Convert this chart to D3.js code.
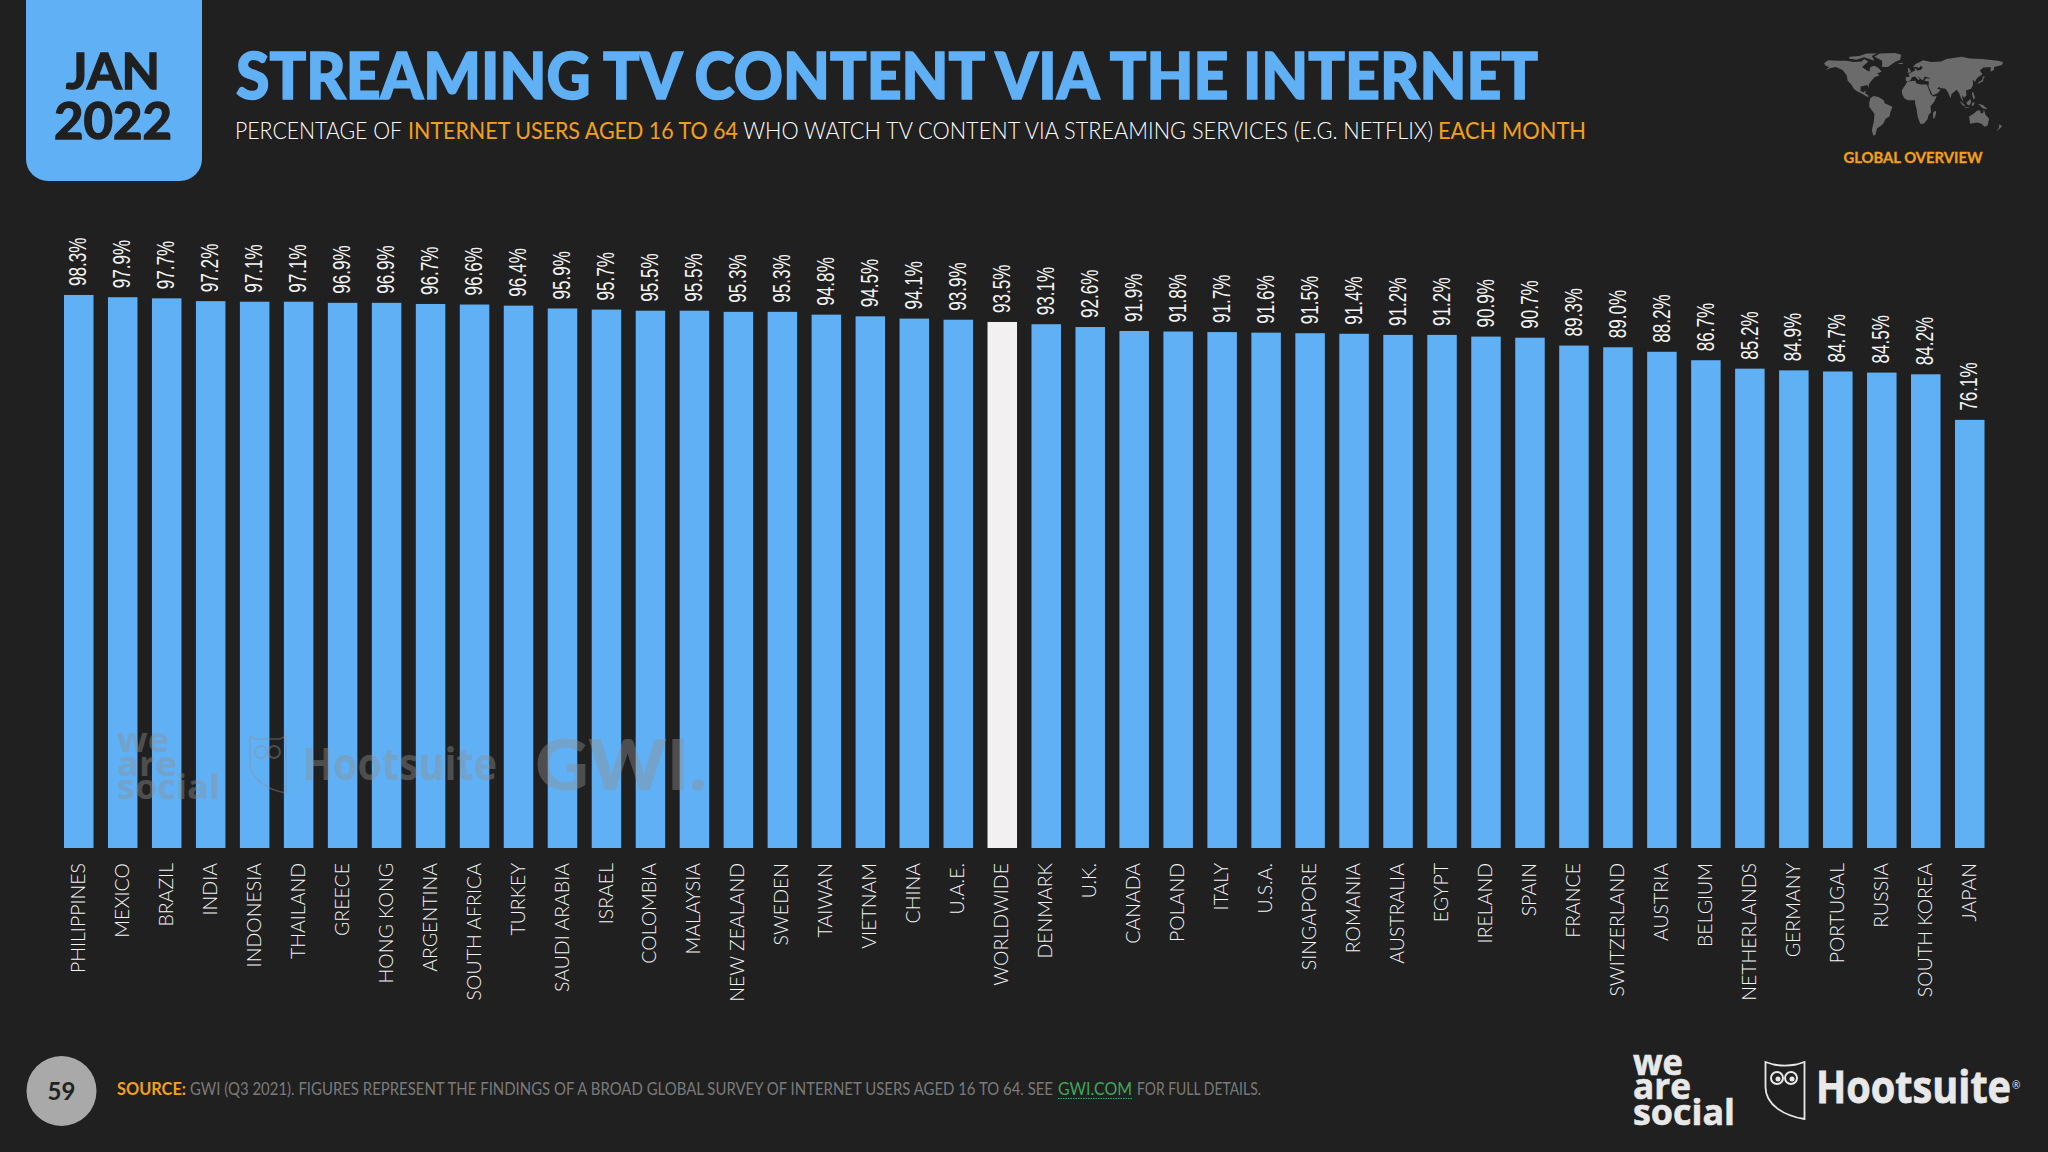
<!DOCTYPE html>
<html>
<head>
<meta charset="utf-8">
<script src="https://cdn.jsdelivr.net/npm/d3@7"></script>
<style>
html, body { margin: 0; padding: 0; background: #202020; }
svg { display: block; }
</style>
</head>
<body>
<svg id="chart" width="2048" height="1152"></svg>
<script>
var countries = ["PHILIPPINES", "MEXICO", "BRAZIL", "INDIA", "INDONESIA", "THAILAND", "GREECE", "HONG KONG",
    "ARGENTINA", "SOUTH AFRICA", "TURKEY", "SAUDI ARABIA", "ISRAEL", "COLOMBIA", "MALAYSIA", "NEW ZEALAND",
    "SWEDEN", "TAIWAN", "VIETNAM", "CHINA", "U.A.E.", "WORLDWIDE", "DENMARK", "U.K.", "CANADA", "POLAND",
    "ITALY", "U.S.A.", "SINGAPORE", "ROMANIA", "AUSTRALIA", "EGYPT", "IRELAND", "SPAIN", "FRANCE",
    "SWITZERLAND", "AUSTRIA", "BELGIUM", "NETHERLANDS", "GERMANY", "PORTUGAL", "RUSSIA", "SOUTH KOREA", "JAPAN"];
var shares = [98.3, 97.9, 97.7, 97.2, 97.1, 97.1, 96.9, 96.9, 96.7, 96.6, 96.4, 95.9, 95.7, 95.5, 95.5, 95.3,
    95.3, 94.8, 94.5, 94.1, 93.9, 93.5, 93.1, 92.6, 91.9, 91.8, 91.7, 91.6, 91.5, 91.4, 91.2, 91.2, 90.9,
    90.7, 89.3, 89.0, 88.2, 86.7, 85.2, 84.9, 84.7, 84.5, 84.2, 76.1];
var highlighted = "WORLDWIDE";

// rough continent outlines for the little map, [lon, lat]
var landShapes = [
    [[-168,66],[-160,71],[-140,70],[-125,70],[-110,68],[-95,69],[-90,73],[-82,69],[-94,60],[-88,56],[-80,52],[-78,60],[-70,62],[-62,58],[-56,52],[-65,49],[-60,46],[-70,43],[-75,38],[-81,31],[-81,25],[-84,30],[-90,29],[-97,27],[-97,20],[-91,18],[-87,21],[-88,16],[-83,14],[-81,9],[-78,8],[-85,11],[-95,16],[-105,20],[-110,24],[-115,31],[-122,37],[-124,46],[-132,55],[-145,60],[-155,58],[-165,55],[-158,60],[-165,62]],
    [[-120,74],[-105,72],[-90,76],[-80,73],[-70,70],[-75,78],[-65,82],[-85,82],[-100,78],[-118,77]],
    [[-55,60],[-44,60],[-30,68],[-20,72],[-18,80],[-30,83],[-60,82],[-70,77],[-55,70]],
    [[-78,8],[-72,12],[-62,10],[-52,5],[-50,0],[-35,-6],[-39,-15],[-41,-22],[-48,-26],[-53,-34],[-58,-38],[-65,-42],[-68,-52],[-72,-54],[-75,-45],[-71,-30],[-70,-18],[-80,-6],[-80,1]],
    [[-16,15],[-17,21],[-10,30],[-6,36],[10,37],[11,33],[20,31],[32,31],[36,22],[39,15],[44,11],[51,12],[46,2],[39,-5],[40,-15],[35,-20],[33,-27],[26,-34],[19,-34],[14,-22],[12,-10],[9,0],[9,5],[-5,5],[-12,8]],
    [[-9,37],[-9,43],[-1,44],[-4,48],[4,52],[9,54],[8,58],[12,56],[12,54],[20,55],[24,59],[20,62],[17,58],[12,60],[5,60],[10,65],[25,71],[40,68],[60,69],[70,73],[100,77],[115,74],[140,73],[170,70],[180,68],[178,63],[163,60],[162,55],[156,52],[156,60],[142,59],[135,54],[140,48],[130,42],[127,38],[126,35],[121,39],[122,31],[118,24],[108,21],[109,13],[105,9],[100,13],[103,2],[98,9],[95,16],[90,22],[80,15],[78,8],[73,18],[68,24],[58,25],[56,27],[52,24],[59,22],[52,16],[43,13],[35,28],[36,36],[27,37],[30,41],[40,41],[28,44],[24,38],[20,40],[14,45],[18,40],[16,38],[9,44],[3,43],[0,38],[-5,36]],
    [[-6,50],[1,51],[0,54],[-3,58],[-6,57],[-4,54],[-5,52]],
    [[-24,65],[-14,65],[-16,67],[-22,66]],
    [[130,31],[136,34],[141,36],[142,41],[145,44],[141,44],[139,38],[133,35]],
    [[95,5],[104,-2],[106,-6],[101,-3]],
    [[105,-7],[115,-8],[114,-7],[106,-6]],
    [[109,1],[117,7],[118,1],[114,-4],[110,-2]],
    [[119,-3],[121,1],[125,1],[122,-5]],
    [[131,-1],[141,-3],[150,-10],[141,-9],[135,-4]],
    [[120,18],[122,18],[126,8],[122,7],[120,14]],
    [[114,-22],[122,-18],[130,-12],[136,-12],[136,-16],[141,-17],[143,-11],[146,-19],[153,-26],[150,-37],[144,-39],[138,-34],[130,-32],[116,-34]],
    [[44,-16],[49,-12],[50,-16],[47,-25],[44,-25]],
    [[173,-35],[178,-38],[175,-41],[171,-44],[167,-46],[172,-41]]
];

var bg = "#202020", barBlue = "#60b0f6", orange = "#f2a01c", footGrey = "#7b7b7b", logoGrey = "#e8e8e8";
var svg = d3.select("#chart");
svg.append("rect").attr("width", 2048).attr("height", 1152).attr("fill", bg);

// squeezes a text into the width it has in the picture
var addText = function(txt, x, y, size, opts, parent) {
    opts = opts || {};
    var t = (parent || svg).append("text")
        .attr("x", x)
        .attr("y", y)
        .attr("font-size", size)
        .attr("font-family", opts.font || "Lato")
        .attr("font-weight", opts.weight || 400)
        .attr("fill", opts.fill || "#ffffff")
        .attr("text-anchor", opts.anchor || "start")
        .text(txt);
    if (opts.width) {
        t.attr("textLength", opts.width).attr("lengthAdjust", "spacingAndGlyphs");
    }
    if (opts.stroke) {
        t.attr("stroke", opts.fill).attr("stroke-width", opts.stroke);
    }
    return t;
};

// date badge
svg.append("path")
    .attr("d", "M26,0H202V159a22,22 0 0 1 -22,22H48a22,22 0 0 1 -22,-22Z")
    .attr("fill", barBlue);
addText("JAN", 113, 89, 50, {weight: 700, fill: bg, anchor: "middle", width: 94, stroke: 1.4});
addText("2022", 113, 139, 51, {weight: 700, fill: bg, anchor: "middle", width: 118, stroke: 1.4});

// title block
addText("STREAMING TV CONTENT VIA THE INTERNET", 236, 99, 65, {weight: 900, fill: barBlue, width: 1302, stroke: 1.6});
addText("PERCENTAGE OF", 235, 139, 23, {weight: 300, width: 167});
addText("INTERNET USERS AGED 16 TO 64", 408, 139, 23, {fill: orange, width: 330});
addText("WHO WATCH TV CONTENT VIA STREAMING SERVICES (E.G. NETFLIX)", 743, 139, 23, {weight: 300, width: 690});
addText("EACH MONTH", 1438, 139, 23, {fill: orange, width: 148});

// world map, top right
var mapX = d3.scaleLinear().domain([-170, 180]).range([1823, 2003]);
var mapY = d3.scaleLinear().domain([83, -56]).range([53, 137]);
var mapLine = d3.line()
    .x(function(d) { return mapX(d[0]); })
    .y(function(d) { return mapY(d[1]); })
    .curve(d3.curveLinearClosed);
svg.append("g").selectAll("path")
    .data(landShapes)
  .enter()
    .append("path")
    .attr("d", mapLine)
    .attr("fill", "#6b6b6b");
addText("GLOBAL OVERVIEW", 1913, 163, 15.5, {weight: 700, fill: orange, anchor: "middle", width: 139, stroke: 0.3});

// bars
var x = d3.scaleBand().domain(countries).range([64, 1984.5]).paddingInner(0.329).paddingOuter(0);
var y = d3.scaleLinear().domain([0, 100]).range([848, 285.4]);
var rows = countries.map(function(c, i) { return {country: c, share: shares[i]}; });

svg.append("g").selectAll("rect")
    .data(rows)
  .enter()
    .append("rect")
    .attr("x", function(d) { return x(d.country); })
    .attr("y", function(d) { return y(d.share); })
    .attr("width", x.bandwidth())
    .attr("height", function(d) { return y(0) - y(d.share); })
    .attr("fill", function(d) { return d.country === highlighted ? "#f2f0f0" : barBlue; });

svg.append("g").selectAll("text")
    .data(rows)
  .enter()
    .append("text")
    .attr("transform", function(d) {
        return "translate(" + (x(d.country) + x.bandwidth() / 2 - 1) + "," + (y(d.share) - 9) + ") rotate(-90)";
    })
    .attr("dy", "0.36em")
    .attr("font-family", "Liberation Sans")
    .attr("font-size", 24)
    .attr("textLength", 48.5)
    .attr("lengthAdjust", "spacingAndGlyphs")
    .attr("fill", "#f4f4f4")
    .text(function(d) { return d.share.toFixed(1) + "%"; });

// country labels
var axis = svg.append("g")
    .attr("transform", "translate(0,848)")
    .call(d3.axisBottom(x).tickSize(0));
axis.select(".domain").remove();
axis.selectAll("text")
    .attr("transform", "rotate(-90)")
    .attr("x", -15)
    .attr("y", -1)
    .attr("dy", "0.36em")
    .attr("text-anchor", "end")
    .attr("font-family", "Lato")
    .attr("font-weight", 300)
    .attr("font-size", 19.5)
    .attr("fill", "#f4f4f4");

// watermarks sitting over the bars
var marks = svg.append("g").attr("opacity", 0.42);
var markStyle = {font: "Open Sans", weight: 700, fill: "#8f8f8f"};
addText("we", 117, 752, 34, Object.assign({width: 52}, markStyle), marks);
addText("are", 117, 776, 34, Object.assign({width: 60}, markStyle), marks);
addText("social", 117, 799, 34, Object.assign({width: 103}, markStyle), marks);
addText("Hootsuite", 303, 780, 44, Object.assign({width: 194}, markStyle), marks);
addText("GWI.", 535, 790, 70, {font: "Lato", weight: 900, fill: "#8f8f8f", width: 172}, marks);
marks.append("path")
    .attr("d", "M250,736l6,3h24l6,-3v57c-18,-3 -36,-14 -36,-30Z")
    .attr("fill", "none").attr("stroke", "#8f8f8f").attr("stroke-width", 1.5);
[261, 274].forEach(function(cx) {
    marks.append("circle").attr("cx", cx).attr("cy", 752).attr("r", 6)
        .attr("fill", "none").attr("stroke", "#8f8f8f").attr("stroke-width", 2);
});

// footer
svg.append("circle").attr("cx", 61.5).attr("cy", 1091).attr("r", 35).attr("fill", "#a9a9a9");
addText("59", 61.5, 1100, 24, {weight: 700, fill: "#222222", anchor: "middle"});
addText("SOURCE:", 117, 1095, 16.5, {weight: 700, fill: orange, width: 69});
addText("GWI (Q3 2021). FIGURES REPRESENT THE FINDINGS OF A BROAD GLOBAL SURVEY OF INTERNET USERS AGED 16 TO 64. SEE", 190, 1095, 16.5, {fill: footGrey, width: 863});
addText("GWI.COM", 1058, 1095, 16.5, {fill: "#3fa85a", width: 74});
svg.append("line").attr("x1", 1058).attr("x2", 1133).attr("y1", 1098.5).attr("y2", 1098.5)
    .attr("stroke", "#3fa85a").attr("stroke-width", 1).attr("stroke-dasharray", "1.5 1");
addText("FOR FULL DETAILS.", 1137, 1095, 16.5, {fill: footGrey, width: 124});

// logos
addText("we", 1633, 1075, 36, {font: "Open Sans", weight: 700, fill: logoGrey, width: 50, stroke: 0.6});
addText("are", 1633, 1099, 36, {font: "Open Sans", weight: 700, fill: logoGrey, width: 58, stroke: 0.6});
addText("social", 1633, 1125, 36, {font: "Open Sans", weight: 700, fill: logoGrey, width: 102, stroke: 0.6});
svg.append("path")
    .attr("d", "M1765.5,1062l8,2.5c7,1.5 15,1.5 23,0l8,-2.5v57c-20,-3 -39,-14 -39,-32Z")
    .attr("fill", "none").attr("stroke", logoGrey).attr("stroke-width", 1.8);
[1777, 1791].forEach(function(cx) {
    svg.append("circle").attr("cx", cx).attr("cy", 1078).attr("r", 6)
        .attr("fill", "none").attr("stroke", logoGrey).attr("stroke-width", 2);
    svg.append("circle").attr("cx", cx + 1).attr("cy", 1079).attr("r", 2.5).attr("fill", logoGrey);
});
addText("Hootsuite", 1816, 1103, 45, {font: "Open Sans", weight: 700, fill: logoGrey, width: 195, stroke: 0.8});
addText("®", 2012, 1089, 10, {font: "Open Sans", fill: logoGrey});
</script>
</body>
</html>
